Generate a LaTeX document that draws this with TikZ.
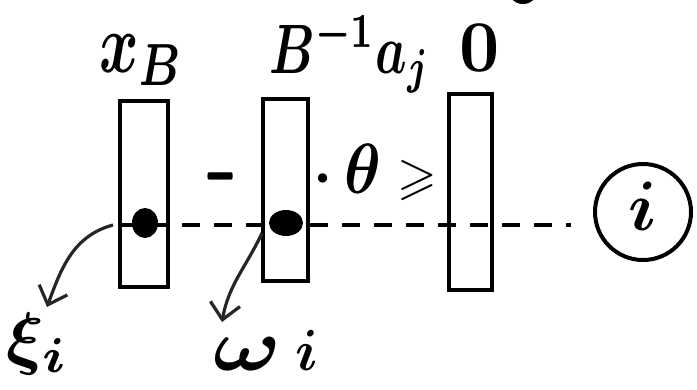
\documentclass[tikz,border=0pt]{standalone}
\usepackage{amssymb}
\usetikzlibrary{arrows.meta,shapes.geometric}
\newcommand{\sbx}[3]{\scalebox{#1}[#2]{\boldmath$#3$}}
\begin{document}
\begin{tikzpicture}[x=1pt,y=-1pt,
  colbox/.style={draw, line width=4pt, inner sep=0pt},
  lbl/.style={inner sep=0pt},
  dotnode/.style={fill, ellipse, inner sep=0pt},
  pointer/.style={-{Straight Barb[length=16pt,width=30pt,line width=3.2pt]}, line width=3.2pt, black!85},
  hdash/.style={line width=3.6pt, dash pattern=on 18pt off 14pt}]
\clip (0,0) rectangle (697,389);
\useasboundingbox (0,0) rectangle (697,389);
% columns
\node[colbox, minimum width=48, minimum height=186] (c1) at (144,194) {};
\node[colbox, minimum width=45, minimum height=182] (c2) at (285,190) {};
\node[colbox, minimum width=43, minimum height=196] (c3) at (470,192) {};
% labels above
\node[lbl] (xb) at (142,60) {\sbx{6}{8.5}{x_B}};
\node[lbl] (bal) at (350,54) {\sbx{5}{7}{B^{-1}a_j}};
\node[lbl] (zero) at (480,48) {\sbx{7}{7.3}{0}};
\node[lbl] (minus) at (221,176) {\sbx{3.6}{12}{-}};
\node[lbl] (theta) at (375,172) {\sbx{6}{6}{\cdot}\hspace{12pt}\sbx{6.2}{7.1}{\theta}\hspace{16pt}\sbx{5.1}{5.2}{\geqslant}};
% circled i
\node[draw, circle, line width=4pt, minimum size=96pt, lbl] (ci) at (643,212) {\raisebox{12pt}{\sbx{7}{7}{i}}};
% dashed row
\coordinate (dl) at (118,225);
\draw[hdash, shorten >=22pt] (dl) -- (dl -| ci.west);
% dots
\node[dotnode, minimum width=26pt, minimum height=30pt] (d1) at (145,223) {};
\node[dotnode, minimum width=34pt, minimum height=26pt] (d2) at (286,223) {};
% bottom labels
\node[lbl] (xi) at (38,344) {\sbx{7}{7}{\xi_i}};
\node[lbl] (om) at (266,350) {\sbx{9}{7.4}{\omega}\hspace{14pt}\sbx{5.6}{5.8}{i}};
% pointers
\coordinate (p1) at (113,225);
\coordinate (t1) at (47,307);
\draw[pointer] (p1) to[out=195, in=70] (t1);
\coordinate (p2) at (262,233);
\coordinate (t2) at (222,322);
\draw[pointer] (p2) to[out=245, in=80] (t2);
% cut-off mark at top
\draw[line width=4pt] (523,-12) ellipse (14 and 14);
\end{tikzpicture}
\end{document}
